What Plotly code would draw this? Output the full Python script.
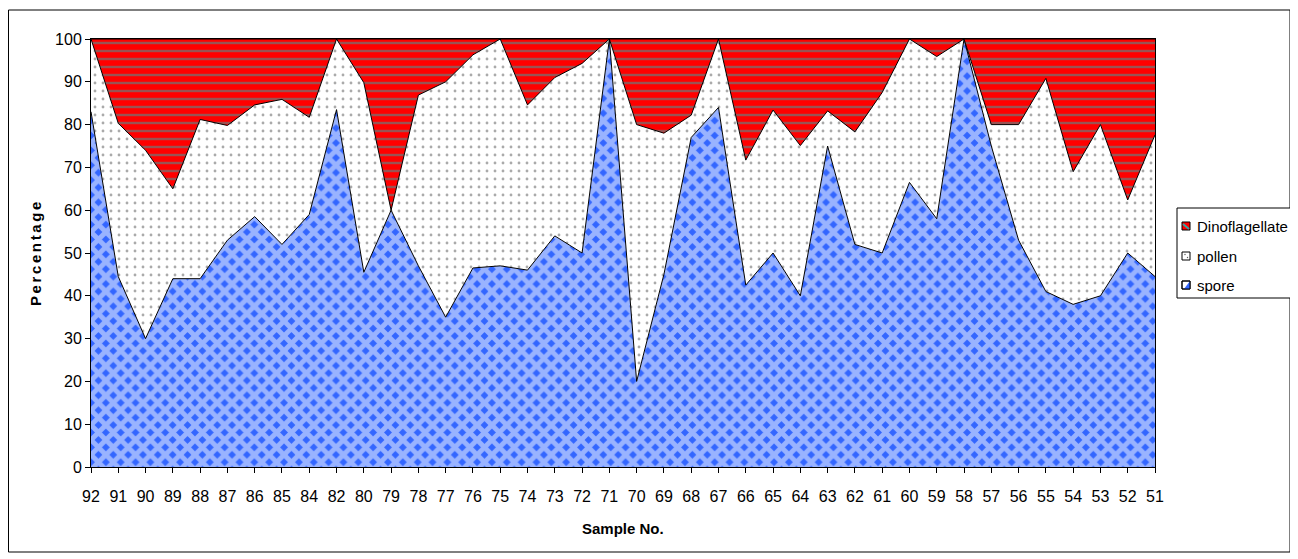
import plotly.graph_objects as go

categories = ['92', '91', '90', '89', '88', '87', '86', '85', '84', '82',
              '80', '79', '78', '77', '76', '75', '74', '73', '72', '71',
              '70', '69', '68', '67', '66', '65', '64', '63', '62', '61',
              '60', '59', '58', '57', '56', '55', '54', '53', '52', '51']

spore = [83, 44.5, 30, 44, 44, 53, 58.5, 52, 59, 83.5,
         45.5, 60, 47, 35, 46.5, 47, 46, 54, 50, 100,
         20, 45, 77, 84, 42.5, 50, 40, 75, 52, 50,
         66.5, 58, 100, 75, 53, 41, 38, 40, 50, 44.5]

pollen = [17, 35.8, 44, 21, 37.2, 26.8, 26.1, 33.9, 22.7, 16.5,
          44.3, 0, 39.9, 55, 49.8, 53, 38.6, 37, 44.3, 0,
          60, 33, 5.2, 16, 29.2, 33.4, 35.1, 8.2, 26.3, 37.5,
          33.5, 37.9, 0, 5, 27, 49.8, 31, 40, 12.4, 33.1]

dinoflagellate = [0, 19.7, 26, 35, 18.8, 20.2, 15.4, 14.1, 18.3, 0,
                  10.2, 40, 13.1, 10, 3.7, 0, 15.4, 9, 5.7, 0,
                  20, 22, 17.8, 0, 28.3, 16.6, 24.9, 16.8, 21.7, 12.5,
                  0, 4.1, 0, 20, 20, 9.2, 31, 20, 37.6, 22.4]

series_names = ["Dinoflagellate", "pollen", "spore"]
y_ticks = list(range(0, 101, 10))

FONT = "Liberation Sans, Arial, sans-serif"
BLUE = "#3366ff"
RED = "#ff0000"
TEAL = "#35a5a5"

# page layout (browser px); the page body adds an 8px offset
OFF = 8
PL, PR, PT, PB = 91, 1155, 39, 467          # plot area on the page
W, H = 1298 - OFF, 559 - OFF


def px(X):
    return (X - PL) / (PR - PL)


def py(Y):
    return (PB - Y) / (PB - PT)


fig = go.Figure()

fig.add_trace(go.Scatter(
    x=categories, y=spore, name="spore", stackgroup="one", mode="lines",
    line=dict(color="black", width=1), fillcolor=BLUE,
    fillpattern=dict(shape="x", fgcolor="white", bgcolor=BLUE,
                     size=10.5, solidity=0.72),
    showlegend=False,
))
fig.add_trace(go.Scatter(
    x=categories, y=pollen, name="pollen", stackgroup="one", mode="lines",
    line=dict(color="black", width=1), fillcolor="white",
    fillpattern=dict(shape=".", fgcolor="#555555", bgcolor="white",
                     size=8, solidity=0.1),
    showlegend=False,
))
fig.add_trace(go.Scatter(
    x=categories, y=dinoflagellate, name="Dinoflagellate", stackgroup="one",
    mode="lines", line=dict(color="black", width=1), fillcolor=RED,
    fillpattern=dict(shape="-", fgcolor=TEAL, bgcolor=RED,
                     size=8, solidity=0.3),
    showlegend=False,
))

shapes = [
    # outer chart frame
    dict(type="rect", xref="paper", yref="paper",
         x0=px(8.5), x1=px(1290), y0=py(552), y1=py(10),
         line=dict(color="black", width=1), fillcolor="rgba(0,0,0,0)", layer="below"),
    # legend box
    dict(type="rect", xref="paper", yref="paper",
         x0=px(1177), x1=px(1297), y0=py(298), y1=py(208),
         line=dict(color="black", width=1), fillcolor="white", layer="above"),
]
annotations = []

legend_rows = [226, 256, 285]
for name, yc in zip(series_names, legend_rows):
    x0, x1 = 1182, 1190
    y0, y1 = yc - 4, yc + 4
    if name == "Dinoflagellate":
        shapes.append(dict(type="rect", xref="paper", yref="paper",
                           x0=px(x0), x1=px(x1), y0=py(y1), y1=py(y0),
                           line=dict(color="black", width=1), fillcolor=RED))
        shapes.append(dict(type="line", xref="paper", yref="paper",
                           x0=px(x0 + 1), x1=px(x1 - 1), y0=py(y0 + 2), y1=py(y1 - 1),
                           line=dict(color=TEAL, width=2)))
    elif name == "pollen":
        shapes.append(dict(type="rect", xref="paper", yref="paper",
                           x0=px(x0), x1=px(x1), y0=py(y1), y1=py(y0),
                           line=dict(color="black", width=1), fillcolor="white"))
        for dx, dy in [(3, 2.5), (5.5, 5.5)]:
            shapes.append(dict(type="circle", xref="paper", yref="paper",
                               x0=px(x0 + dx - 0.7), x1=px(x0 + dx + 0.7),
                               y0=py(y0 + dy + 0.7), y1=py(y0 + dy - 0.7),
                               line=dict(width=0), fillcolor="#5a5a5a"))
    else:
        shapes.append(dict(type="rect", xref="paper", yref="paper",
                           x0=px(x0), x1=px(x1), y0=py(y1), y1=py(y0),
                           line=dict(color="black", width=1), fillcolor="white"))
        shapes.append(dict(type="path", xref="paper", yref="paper",
                           path=f"M {px(x1)} {py(y0)} L {px(x1)} {py(y1)} L {px(x0 + 2)} {py(y1)} Z",
                           line=dict(width=0), fillcolor=BLUE))
        shapes.append(dict(type="rect", xref="paper", yref="paper",
                           x0=px(x0), x1=px(x1), y0=py(y1), y1=py(y0),
                           line=dict(color="black", width=1), fillcolor="rgba(0,0,0,0)"))
    annotations.append(dict(text=name, x=px(1195), y=py(yc), xref="paper", yref="paper",
                            showarrow=False, xanchor="left", yanchor="middle",
                            font=dict(family=FONT, size=15, color="black")))

annotations += [
    dict(text="<b>Sample No.</b>", x=0.5, y=py(528), xref="paper", yref="paper",
         showarrow=False, font=dict(family=FONT, size=15), xanchor="center", yanchor="middle"),
    dict(text='<b><span style="letter-spacing:2.6px">Percentage</span></b>',
         x=px(35), y=py(253), xref="paper", yref="paper",
         showarrow=False, textangle=-90, font=dict(family=FONT, size=15),
         xanchor="center", yanchor="middle"),
]

fig.update_layout(
    width=W, height=H,
    margin=dict(l=PL - OFF, r=W - (PR - OFF), t=PT - OFF, b=H - (PB - OFF), pad=0),
    paper_bgcolor="white", plot_bgcolor="white",
    font=dict(family=FONT, size=16, color="black"),
    showlegend=False,
    xaxis=dict(
        type="category", range=[0, len(categories) - 1],
        showgrid=False, zeroline=False,
        showline=True, linecolor="black", linewidth=1, mirror=True,
        ticks="outside", ticklen=5, tickcolor="black", tickwidth=1,
        ticklabelstandoff=10,
        tickfont=dict(family=FONT, size=16),
    ),
    yaxis=dict(
        range=[0, 100], tickvals=y_ticks,
        showgrid=False, zeroline=False,
        showline=True, linecolor="black", linewidth=1, mirror=True,
        ticks="outside", ticklen=5, tickcolor="black", tickwidth=1,
        tickfont=dict(family=FONT, size=16),
    ),
    annotations=annotations,
    shapes=shapes,
)

fig.write_html("out.html")
